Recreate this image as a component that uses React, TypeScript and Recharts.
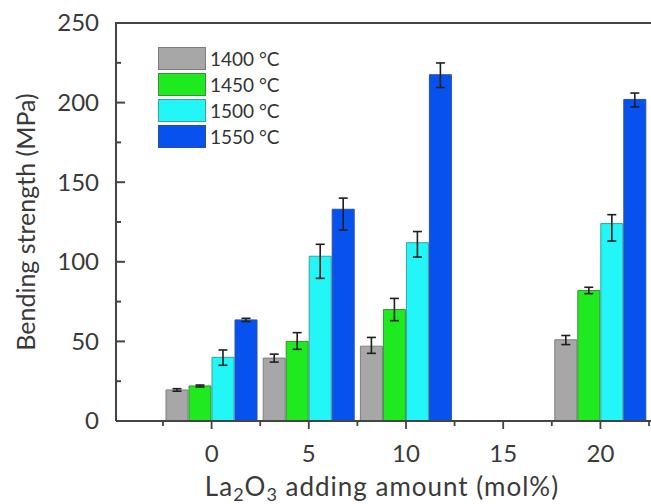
import {
  ComposedChart,
  Bar,
  ErrorBar,
  XAxis,
  YAxis,
  Legend,
  ReferenceLine,
} from 'recharts'

const CATEGORIES = ['0', '5', '10', '15', '20']

const S1400 = [19.5, 39.5, 47, null, 51]
const S1450 = [22, 50, 70, null, 82]
const S1500 = [40, 103.5, 112, null, 124]
const S1550 = [63.5, 133, 217.5, null, 202]

// [lower, upper] error lengths read from the whiskers
const E1400 = [[0.8, 0.8], [2.5, 2.5], [4.5, 5.5], null, [3, 2.7]]
const E1450 = [[0.6, 0.6], [5, 5.5], [7, 7], null, [2, 2]]
const E1500 = [[5, 4.6], [13.9, 7.5], [9, 7], null, [11, 5.6]]
const E1550 = [[1, 1], [13, 7], [8, 7.4], null, [4.7, 4]]

const Y_MAX = 250
const Y_TICKS = [0, 25, 50, 75, 100, 125, 150, 175, 200, 225, 250]

const SERIES = [
  { key: 's1400', err: 'e1400', name: '1400 °C', color: '#a7a7a7', stroke: '#7d7d7d' },
  { key: 's1450', err: 'e1450', name: '1450 °C', color: '#1fe91f', stroke: '#3a8f3a' },
  { key: 's1500', err: 'e1500', name: '1500 °C', color: '#22f6f6', stroke: '#3aa0a0' },
  { key: 's1550', err: 'e1550', name: '1550 °C', color: '#0752ef', stroke: '#2a4fa8' },
]

const data = CATEGORIES.map((x, i) => ({
  x,
  s1400: S1400[i],
  s1450: S1450[i],
  s1500: S1500[i],
  s1550: S1550[i],
  e1400: E1400[i],
  e1450: E1450[i],
  e1500: E1500[i],
  e1550: E1550[i],
}))

const AXIS = '#444444'
const FONT = 'Lato, "Open Sans", sans-serif'
const PLOT_W = 535
const PAD = { left: 47, right: 2 }
const BAND = (PLOT_W - PAD.left - PAD.right) / CATEGORIES.length

function XTick(props: any) {
  const x = Number(props.x)
  const y = Number(props.y)
  const half = BAND / 2
  const last = props.index === CATEGORIES.length - 1
  return (
    <g>
      <path d={`M${x},${y}V${y + 8}`} stroke={AXIS} strokeWidth={1.8} />
      <path d={`M${x - half},${y}V${y + 5}`} stroke={AXIS} strokeWidth={1.8} />
      {last && <path d={`M${x + half},${y}V${y + 5}`} stroke={AXIS} strokeWidth={1.8} />}
      <text x={x} y={y + 41} textAnchor="middle" fontSize={24} fill="#3a3a3a" fontFamily={FONT}>
        {props.payload.value}
      </text>
    </g>
  )
}

function YTick(props: any) {
  const x = Number(props.x)
  const y = Number(props.y)
  const v = Number(props.payload.value)
  const major = v % 50 === 0
  return (
    <g>
      <path d={`M${x},${y}H${x + (major ? 9 : 5)}`} stroke={AXIS} strokeWidth={2} />
      {/* top frame line of the plot box */}
      {v === Y_MAX && <path d={`M${x - 1},${y}H${x + PLOT_W}`} stroke={AXIS} strokeWidth={2.2} />}
      {major && (
        <text x={x - 17} y={y} dy="0.35em" textAnchor="end" fontSize={24} fill="#3a3a3a" fontFamily={FONT}>
          {v}
        </text>
      )}
    </g>
  )
}

function XTitle() {
  return (
    <text
      x={382}
      y={496}
      textAnchor="middle"
      fontSize={26}
      letterSpacing={1}
      fill="#3a3a3a"
      fontFamily={FONT}
    >
      La<tspan fontSize={18} dy={5}>2</tspan>
      <tspan dy={-5}>O</tspan>
      <tspan fontSize={18} dy={5}>3</tspan>
      <tspan dy={-5}> adding amount (mol%)</tspan>
    </text>
  )
}

function LegendBox() {
  return (
    <div style={{ display: 'flex', flexDirection: 'column', gap: 3, fontFamily: FONT }}>
      {SERIES.map((s) => (
        <div key={s.key} style={{ display: 'flex', alignItems: 'center', height: 23 }}>
          <span
            style={{
              width: 48,
              height: 23,
              background: s.color,
              border: `1px solid ${s.stroke}`,
              boxSizing: 'border-box',
              display: 'inline-block',
            }}
          />
          <span style={{ marginLeft: 4, fontSize: 19, color: '#333' }}>{s.name}</span>
        </div>
      ))}
    </div>
  )
}

export default function App() {
  return (
    <div style={{ width: 651, height: 504, background: '#fff' }}>
      <style>{'body{margin:0}'}</style>
      <ComposedChart
        width={651}
        height={504}
        data={data}
        barGap={1}
        margin={{ top: 23, right: 0, bottom: 0, left: 0 }}
        style={{ fontFamily: FONT }}
      >
        <XAxis
          dataKey="x"
          type="category"
          padding={PAD}
          tick={XTick}
          tickLine={false}
          tickSize={0}
          tickMargin={0}
          interval={0}
          height={83}
          axisLine={{ stroke: AXIS, strokeWidth: 2 }}
          label={{ content: <XTitle /> }}
        />
        <YAxis
          type="number"
          domain={[0, Y_MAX]}
          ticks={Y_TICKS}
          tick={YTick}
          tickLine={false}
          tickSize={0}
          tickMargin={0}
          interval={0}
          width={116}
          axisLine={{ stroke: AXIS, strokeWidth: 2 }}
          label={{
            value: 'Bending strength (MPa)',
            angle: -90,
            position: 'insideLeft',
            offset: 26,
            style: { textAnchor: 'middle', fontSize: 25, fill: '#3a3a3a', fontFamily: FONT },
          }}
        />
        <ReferenceLine y={Y_MAX} stroke={AXIS} strokeWidth={2.2} ifOverflow="extendDomain" />
        <Legend
          layout="vertical"
          align="center"
          verticalAlign="middle"
          content={<LegendBox />}
          wrapperStyle={{ left: 158, top: 47, width: 'auto', height: 'auto' }}
        />
        {SERIES.map((s) => (
          <Bar
            key={s.key}
            dataKey={s.key}
            name={s.name}
            fill={s.color}
            stroke={s.stroke}
            strokeWidth={1}
            barSize={22}
            isAnimationActive={false}
          >
            <ErrorBar dataKey={s.err} direction="y" width={4.5} stroke="#1e1e1e" strokeWidth={1.6} />
          </Bar>
        ))}
      </ComposedChart>
    </div>
  )
}
